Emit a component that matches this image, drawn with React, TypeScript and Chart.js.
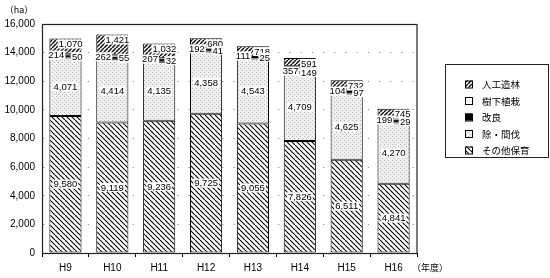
import React, { useEffect, useRef } from "react";
import { Chart, registerables } from "chart.js";
Chart.register(...registerables);

const categories = ["H9", "H10", "H11", "H12", "H13", "H14", "H15", "H16"];
const sonotaHoiku = [9580, 9119, 9236, 9725, 9055, 7826, 6511, 4841];
const jokanbatsu = [4071, 4414, 4135, 4358, 4543, 4709, 4625, 4270];
const jukaShokusai = [214, 262, 207, 192, 111, 357, 104, 199];
const kairyo = [50, 55, 32, 41, 25, 149, 97, 29];
const jinkoZorin = [1070, 1421, 1032, 680, 718, 591, 732, 745];
const seriesNames = ["その他保育", "除・間伐", "樹下植栽", "改良", "人工造林"];
const legendOrder = [4, 2, 3, 1, 0];
const yMax = 16000;
const yStep = 2000;
const yUnit = "（ha）";
const xUnit = "（年度）";

const NUM_FONT = "'Liberation Sans', Arial, sans-serif";
const JP_FONT = "'Noto Sans CJK JP', sans-serif";

function fmt(v: number) {
  return v.toString().replace(/\B(?=(\d{3})+(?!\d))/g, ",");
}

function makePattern(kind: string): CanvasPattern | string {
  const c = document.createElement("canvas");
  const ctx = c.getContext("2d")!;
  if (kind === "back") {
    const n = 5;
    c.width = n; c.height = n;
    ctx.fillStyle = "#fff"; ctx.fillRect(0, 0, n, n);
    ctx.strokeStyle = "#000"; ctx.lineWidth = 1.1;
    for (let k = -1; k <= 1; k++) {
      ctx.beginPath(); ctx.moveTo(k * n, 0); ctx.lineTo(k * n + n, n); ctx.stroke();
    }
  } else if (kind === "fwd") {
    const n = 4;
    c.width = n; c.height = n;
    ctx.fillStyle = "#fff"; ctx.fillRect(0, 0, n, n);
    ctx.strokeStyle = "#111"; ctx.lineWidth = 1.5;
    for (let k = -1; k <= 1; k++) {
      ctx.beginPath(); ctx.moveTo(k * n, n); ctx.lineTo(k * n + n, 0); ctx.stroke();
    }
  } else if (kind === "dots") {
    c.width = 4; c.height = 4;
    ctx.fillStyle = "#f0f0f0"; ctx.fillRect(0, 0, 4, 4);
    ctx.fillStyle = "#b8b8b8";
    ctx.fillRect(0, 0, 1, 1); ctx.fillRect(2, 2, 1, 1);
  }
  return ctx.createPattern(c, "repeat")!;
}

export default function App() {
  const ref = useRef<HTMLCanvasElement>(null);
  useEffect(() => {
    const fills = [makePattern("back"), makePattern("dots"), "#ffffff", "#000000", makePattern("fwd")];
    const values = [sonotaHoiku, jokanbatsu, jukaShokusai, kairyo, jinkoZorin];

    const labelPlugin = {
      id: "labels",
      afterDatasetsDraw(chart: any) {
        const ctx = chart.ctx;
        ctx.save();
        ctx.font = `9.5px ${NUM_FONT}`;
        ctx.textBaseline = "middle";
        const drawLabel = (text: string, x: number, y: number, align: string) => {
          const w = ctx.measureText(text).width;
          let left = x - w / 2;
          if (align === "left") left = x;
          if (align === "right") left = x - w;
          ctx.fillStyle = "#fff";
          ctx.fillRect(left - 1, y - 4.5, w + 2, 9);
          ctx.fillStyle = "#000";
          ctx.textAlign = "left";
          ctx.fillText(text, left, y + 0.5);
          return [left, left + w];
        };
        categories.forEach((_, j) => {
          const els = [0, 1, 2, 3, 4].map((i) => chart.getDatasetMeta(i).data[j]);
          const e0 = els[0], e1 = els[1], e3 = els[3], e4 = els[4];
          const half = e0.width / 2;
          const cx = e0.x;
          drawLabel(fmt(values[0][j]), cx, (e0.y + e0.base) / 2, "center");
          drawLabel(fmt(values[1][j]), cx, (e1.y + e1.base) / 2, "center");
          drawLabel(fmt(values[4][j]), cx + half + 1, e4.y + 5.5, "right");
          const ly = e1.y - 2.5;
          const [, lEnd] = drawLabel(fmt(values[2][j]), cx - half - 1, ly, "left");
          const [rStart] = drawLabel(fmt(values[3][j]), cx + half + 1, ly + 1.5, "right");
          const th = Math.max(1.6, e3.base - e3.y);
          ctx.fillStyle = "#000";
          ctx.fillRect(lEnd + 1.5, ly + 1 - th / 2, rStart - lEnd - 3, th);
        });
        ctx.restore();
      },
      afterDraw(chart: any) {
        const ctx = chart.ctx;
        const a = chart.chartArea;
        ctx.save();
        ctx.strokeStyle = "#222";
        ctx.lineWidth = 1.2;
        ctx.strokeRect(a.left + 0.5, a.top + 0.5, a.right - a.left - 0.5, a.bottom - a.top);
        // units
        ctx.fillStyle = "#000";
        ctx.font = `9px ${JP_FONT}`;
        ctx.textBaseline = "middle";
        ctx.textAlign = "center";
        ctx.fillText(yUnit, 19, 10);
        ctx.fillText(xUnit, 430, 268);
        // legend
        ctx.lineWidth = 1;
        ctx.strokeStyle = "#222";
        ctx.strokeRect(445.5, 64.5, 103, 93);
        ctx.font = `9.5px ${JP_FONT}`;
        ctx.textAlign = "left";
        legendOrder.forEach((di, r) => {
          const y = 84.5 + r * 16.5;
          ctx.fillStyle = fills[di] as any;
          ctx.fillRect(465, y - 4, 7, 7);
          ctx.strokeStyle = "#000";
          ctx.strokeRect(465.5, y - 3.5, 7, 7);
          ctx.fillStyle = "#000";
          ctx.fillText(seriesNames[di], 482, y);
        });
        ctx.restore();
      },
    };

    const chart = new Chart(ref.current!, {
      type: "bar",
      data: {
        labels: categories,
        datasets: values.map((d, i) => ({
          label: seriesNames[i],
          data: d,
          backgroundColor: fills[i] as any,
          borderColor: "#000",
          borderWidth: 1,
          borderSkipped: false,
          barPercentage: 0.7,
          categoryPercentage: 0.98,
        })),
      },
      options: {
        responsive: false,
        animation: false,
        layout: { padding: { left: 0, top: 24, right: 133, bottom: 0 } },
        plugins: { legend: { display: false }, tooltip: { enabled: false } },
        scales: {
          x: {
            stacked: true,
            grid: { display: true, drawOnChartArea: false, drawTicks: true, tickLength: 4, color: "#000", offset: true },
            border: { display: true, color: "#000", width: 1 },
            ticks: { color: "#000", font: { size: 10, family: NUM_FONT }, padding: 5, maxRotation: 0 },
            afterFit: (s: any) => { s.height = 25; },
          },
          y: {
            stacked: true,
            min: 0,
            max: yMax,
            grid: { color: "#8a8a8a", lineWidth: 1, drawTicks: false },
            border: { display: true, color: "#000", width: 1, dash: [1.2, 10] },
            ticks: { stepSize: yStep, color: "#000", font: { size: 10, family: NUM_FONT }, padding: 7, callback: (v: any) => fmt(Number(v)) },
            afterFit: (s: any) => { s.width = 42; },
          },
        },
      } as any,
      plugins: [labelPlugin],
    });
    return () => chart.destroy();
  }, []);
  return (
    <canvas ref={ref} width={550} height={278} style={{ position: "absolute", left: 0, top: 0 }} />
  );
}
